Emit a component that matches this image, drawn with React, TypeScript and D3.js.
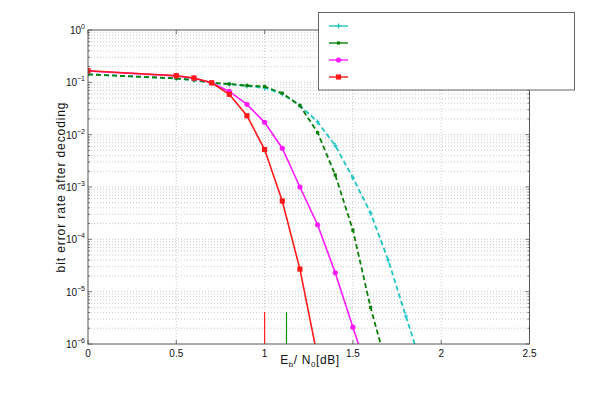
import React from "react";
import * as d3 from "d3";

const xs = [0, 0.5, 0.6, 0.7, 0.8, 0.9, 1.0, 1.1, 1.2, 1.3, 1.4, 1.5, 1.6, 1.7, 1.8, 1.9];

const cyanVals = [0.142, 0.118, 0.11, 0.098, 0.092, 0.085, 0.078, 0.06, 0.036, 0.0175, 0.0062, 0.0015, 0.00032, 0.00004, 0.0000034, 0.0000003];
const greenVals = [0.142, 0.119, 0.111, 0.098, 0.093, 0.087, 0.083, 0.062, 0.036, 0.011, 0.0017, 0.00015, 0.000005, 0.0000003];
const magentaVals = [0.165, 0.133, 0.12, 0.098, 0.067, 0.038, 0.0172, 0.0055, 0.001, 0.00019, 0.000023, 0.0000021, 0.0000002];
const redVals = [0.167, 0.134, 0.121, 0.098, 0.059, 0.023, 0.0052, 0.00054, 0.000027, 0.00000056];

const limitXs = [1.0, 1.124];
const limitTop = 0.0000041;

const xTicks = [0, 0.5, 1, 1.5, 2, 2.5];
const xTickLabels = ["0", "0.5", "1", "1.5", "2", "2.5"];
const yExps = [0, -1, -2, -3, -4, -5, -6];

const seriesDefs = [
  { vals: cyanVals, color: "#1fc6c6", dash: "5,3", marker: "plus", width: 1.8 },
  { vals: greenVals, color: "#0a7f0a", dash: "5,3", marker: "dot", width: 1.8 },
  { vals: magentaVals, color: "#ff1aff", dash: "", marker: "circle", width: 1.6 },
  { vals: redVals, color: "#ff1a1a", dash: "", marker: "square", width: 1.6 },
];
const limitColors = ["#ff2020", "#109010"];

export default function App() {
  const W = 610, H = 394;
  const x = d3.scaleLinear().domain([0, 2.5]).range([88, 529.5]);
  const y = d3.scaleLog().domain([1e-6, 1]).range([344, 30]);
  const [x0, x1] = x.range();
  const [y0, y1] = [y(1), y(1e-6)];

  const minor: number[] = [];
  for (let e = -6; e < 0; e++) for (let k = 2; k <= 9; k++) minor.push(k * Math.pow(10, e));

  const line = d3.line<[number, number]>().x(d => x(d[0])).y(d => y(d[1]));

  const font = "Liberation Sans, Arial, sans-serif";

  const marker = (m: string, cx: number, cy: number, color: string, key: string) => {
    if (m === "plus")
      return (
        <g key={key} stroke={color} strokeWidth={1.2}>
          <line x1={cx - 2} x2={cx + 2} y1={cy} y2={cy} />
          <line x1={cx} x2={cx} y1={cy - 2.5} y2={cy + 2.5} />
        </g>
      );
    if (m === "dot") return <rect key={key} x={cx - 1.6} y={cy - 1.6} width={3.2} height={3.2} fill={color} />;
    if (m === "circle") return <circle key={key} cx={cx} cy={cy} r={2.6} fill={color} />;
    return <rect key={key} x={cx - 2.6} y={cy - 2.6} width={5.2} height={5.2} fill={color} />;
  };

  return (
    <svg width={W} height={H} style={{ position: "absolute", left: 0, top: 0, background: "#fff" }} fontFamily={font}>
      <defs>
        <clipPath id="plotclip">
          <rect x={x0} y={y0} width={x1 - x0} height={y1 - y0} />
        </clipPath>
      </defs>
      <rect x={0} y={0} width={W} height={H} fill="#fff" />
      {/* grid */}
      <g stroke="#bdbdbd" strokeWidth={0.8} strokeDasharray="1,2">
        {minor.map((v, i) => (
          <line key={"m" + i} x1={x0} x2={x1} y1={y(v)} y2={y(v)} />
        ))}
        {yExps.slice(1, -1).map(e => (
          <line key={"M" + e} x1={x0} x2={x1} y1={y(Math.pow(10, e))} y2={y(Math.pow(10, e))} />
        ))}
        {xTicks.slice(1, -1).map(t => (
          <line key={"x" + t} x1={x(t)} x2={x(t)} y1={y0} y2={y1} />
        ))}
      </g>
      {/* ticks */}
      <g stroke="#555" strokeWidth={0.8}>
        {xTicks.map(t => (
          <g key={"xt" + t}>
            <line x1={x(t)} x2={x(t)} y1={y1} y2={y1 - 4} />
            <line x1={x(t)} x2={x(t)} y1={y0} y2={y0 + 4} />
          </g>
        ))}
        {yExps.map(e => (
          <g key={"yt" + e}>
            <line x1={x0} x2={x0 + 4} y1={y(Math.pow(10, e))} y2={y(Math.pow(10, e))} />
            <line x1={x1} x2={x1 - 4} y1={y(Math.pow(10, e))} y2={y(Math.pow(10, e))} />
          </g>
        ))}
        {minor.map((v, i) => (
          <g key={"ym" + i}>
            <line x1={x0} x2={x0 + 2} y1={y(v)} y2={y(v)} />
            <line x1={x1} x2={x1 - 2} y1={y(v)} y2={y(v)} />
          </g>
        ))}
      </g>
      {/* limit markers */}
      {limitXs.map((lx, i) => (
        <line key={"lim" + i} x1={x(lx)} x2={x(lx)} y1={y(1e-6)} y2={y(limitTop)} stroke={limitColors[i]} strokeWidth={1.2} />
      ))}
      {/* series */}
      <g clipPath="url(#plotclip)">
        {seriesDefs.map((s, si) => {
          const pts: [number, number][] = s.vals.map((v, i) => [xs[i], v]);
          return (
            <g key={"s" + si}>
              <path d={line(pts) || ""} fill="none" stroke={s.color} strokeWidth={s.width} strokeDasharray={s.dash || undefined} />
              {pts.map((p, i) => marker(s.marker, x(p[0]), y(p[1]), s.color, "mk" + si + "_" + i))}
            </g>
          );
        })}
      </g>
      {/* axes box */}
      <rect x={x0} y={y0} width={x1 - x0} height={y1 - y0} fill="none" stroke="#555" strokeWidth={1} />
      {/* x tick labels */}
      <g fontSize={10} fill="#111" textAnchor="middle">
        {xTicks.map((t, i) => (
          <text key={"xl" + t} x={x(t)} y={y1 + 13}>
            {xTickLabels[i]}
          </text>
        ))}
      </g>
      {/* y tick labels */}
      <g fontSize={10} fill="#111" textAnchor="end">
        {yExps.map(e => (
          <text key={"yl" + e} x={x0 - 3} y={y(Math.pow(10, e)) + 4}>
            <tspan>10</tspan>
            <tspan fontSize={7} dy={-5}>{e === 0 ? "0" : "\u2212" + -e}</tspan>
          </text>
        ))}
      </g>
      {/* axis labels */}
      <text x={310} y={364} fontSize={12} textAnchor="middle" fill="#111" letterSpacing={0.6}>
        <tspan>E</tspan>
        <tspan fontSize={8} dy={3}>b</tspan>
        <tspan dy={-3}>/ N</tspan>
        <tspan fontSize={8} dy={3}>0</tspan>
        <tspan dy={-3}>[dB]</tspan>
      </text>
      <text transform={`translate(65,${(y0 + y1) / 2}) rotate(-90)`} fontSize={12} textAnchor="middle" fill="#111" letterSpacing={0.9}>
        bit error rate after decoding
      </text>
      {/* legend */}
      <rect x={318.5} y={12.5} width={256} height={77.5} fill="#fff" stroke="#666" strokeWidth={1} />
      {seriesDefs.map((s, i) => {
        const ly = 26 + i * 17;
        return (
          <g key={"lg" + i}>
            <line x1={329} x2={348} y1={ly} y2={ly} stroke={s.color} strokeWidth={2} opacity={0.7} />
            {marker(s.marker, 338.5, ly, s.color, "lm" + i)}
          </g>
        );
      })}
    </svg>
  );
}
